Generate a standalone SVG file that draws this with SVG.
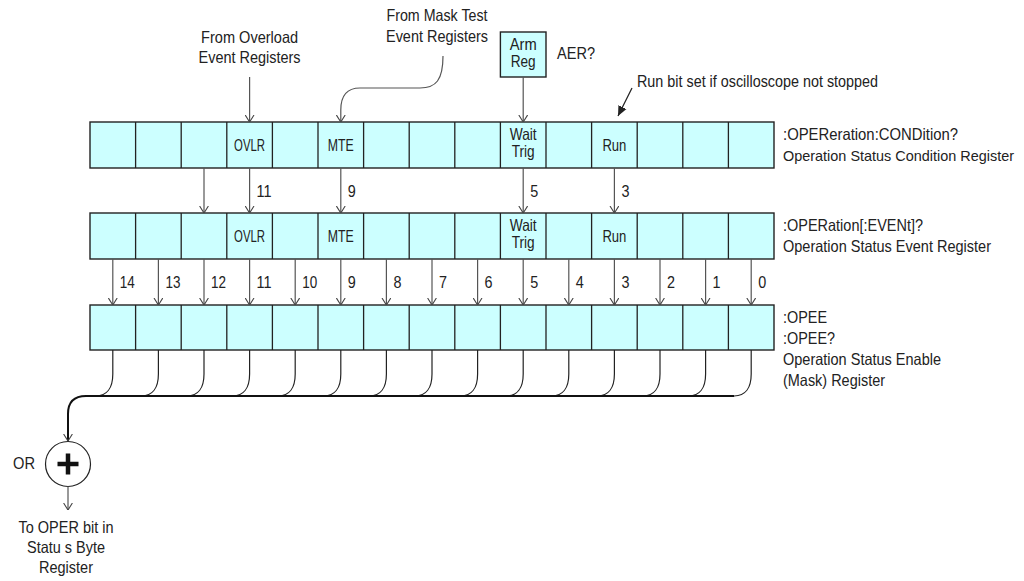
<svg xmlns="http://www.w3.org/2000/svg" width="1024" height="581" viewBox="0 0 1024 581">
<style>
text{font-family:"Liberation Sans",Arial,sans-serif;font-size:16.5px;fill:#222}
.c{text-anchor:middle}
.reg{fill:#CCFFFF;stroke:#222;stroke-width:1.4}
.div{stroke:#222;stroke-width:1.3}
.ar{fill:none;stroke:#555;stroke-width:1.2;marker-end:url(#v)}
.bus{fill:none;stroke:#222;stroke-width:1.2}
</style>
<defs>
<marker id="v" markerUnits="userSpaceOnUse" viewBox="0 0 7 10" refX="7" refY="5" markerWidth="7" markerHeight="10" orient="auto">
<path d="M0,0.6 L7,5 L0,9.4" fill="none" stroke="#444" stroke-width="1.1"/>
</marker>
<marker id="t" markerUnits="userSpaceOnUse" viewBox="0 0 10 10" refX="10" refY="5" markerWidth="10" markerHeight="10" orient="auto">
<path d="M0,0.5 L10,5 L0,9.5 Z" fill="#222"/>
</marker>
</defs>

<g id="cond-register">
<rect class="reg" x="90" y="122" width="684" height="46"/>
<path class="div" d="M135.6,122V168M181.2,122V168M226.8,122V168M272.4,122V168M318,122V168M363.6,122V168M409.2,122V168M454.8,122V168M500.4,122V168M546,122V168M591.6,122V168M637.2,122V168M682.8,122V168M728.4,122V168"/>
<text class="c" x="249.6" y="151" textLength="31" lengthAdjust="spacingAndGlyphs">OVLR</text>
<text class="c" x="340.8" y="151" textLength="26" lengthAdjust="spacingAndGlyphs">MTE</text>
<text class="c" x="523.2" y="140" textLength="27" lengthAdjust="spacingAndGlyphs">Wait</text>
<text class="c" x="523.2" y="157" textLength="23" lengthAdjust="spacingAndGlyphs">Trig</text>
<text class="c" x="614.4" y="151" textLength="24" lengthAdjust="spacingAndGlyphs">Run</text>
<text x="783" y="140" textLength="175" lengthAdjust="spacingAndGlyphs">:OPEReration:CONDition?</text>
<text x="783" y="161" style="font-size:15px" textLength="231" lengthAdjust="spacingAndGlyphs">Operation Status Condition Register</text>
</g>

<g id="event-register">
<rect class="reg" x="90" y="213" width="684" height="46"/>
<path class="div" d="M135.6,213V259M181.2,213V259M226.8,213V259M272.4,213V259M318,213V259M363.6,213V259M409.2,213V259M454.8,213V259M500.4,213V259M546,213V259M591.6,213V259M637.2,213V259M682.8,213V259M728.4,213V259"/>
<text class="c" x="249.6" y="242" textLength="31" lengthAdjust="spacingAndGlyphs">OVLR</text>
<text class="c" x="340.8" y="242" textLength="26" lengthAdjust="spacingAndGlyphs">MTE</text>
<text class="c" x="523.2" y="231" textLength="27" lengthAdjust="spacingAndGlyphs">Wait</text>
<text class="c" x="523.2" y="248" textLength="23" lengthAdjust="spacingAndGlyphs">Trig</text>
<text class="c" x="614.4" y="242" textLength="24" lengthAdjust="spacingAndGlyphs">Run</text>
<text x="783" y="231" textLength="140" lengthAdjust="spacingAndGlyphs">:OPERation[:EVENt]?</text>
<text x="783" y="252" textLength="208" lengthAdjust="spacingAndGlyphs">Operation Status Event Register</text>
</g>

<g id="enable-register">
<rect class="reg" x="90" y="305" width="684" height="45"/>
<path class="div" d="M135.6,305V350M181.2,305V350M226.8,305V350M272.4,305V350M318,305V350M363.6,305V350M409.2,305V350M454.8,305V350M500.4,305V350M546,305V350M591.6,305V350M637.2,305V350M682.8,305V350M728.4,305V350"/>
<text x="783" y="323" textLength="44" lengthAdjust="spacingAndGlyphs">:OPEE</text>
<text x="783" y="344" textLength="52" lengthAdjust="spacingAndGlyphs">:OPEE?</text>
<text x="783" y="365" textLength="158" lengthAdjust="spacingAndGlyphs">Operation Status Enable</text>
<text x="783" y="386" textLength="102" lengthAdjust="spacingAndGlyphs">(Mask) Register</text>
</g>

<g id="arm-reg">
<rect class="reg" x="500.4" y="32" width="45.6" height="45"/>
<text class="c" x="523.2" y="50" textLength="27" lengthAdjust="spacingAndGlyphs">Arm</text>
<text class="c" x="523.2" y="67" textLength="25" lengthAdjust="spacingAndGlyphs">Reg</text>
<text x="557" y="59" textLength="38" lengthAdjust="spacingAndGlyphs">AER?</text>
</g>

<g id="overload-source">
<text class="c" x="249.6" y="43" textLength="97" lengthAdjust="spacingAndGlyphs">From Overload</text>
<text class="c" x="249.6" y="63" textLength="102" lengthAdjust="spacingAndGlyphs">Event Registers</text>
</g>

<g id="mask-source">
<text class="c" x="437" y="21" textLength="101" lengthAdjust="spacingAndGlyphs">From Mask Test</text>
<text class="c" x="437" y="42" textLength="102" lengthAdjust="spacingAndGlyphs">Event Registers</text>
</g>

<g id="run-note">
<text x="637" y="87" textLength="241" lengthAdjust="spacingAndGlyphs">Run bit set if oscilloscope not stopped</text>
</g>

<g id="or-gate">
<circle cx="68" cy="464" r="22.5" fill="#fff" stroke="#222" stroke-width="1.2"/>
<path d="M57.5,464H78.5M68,453.5V474.5" stroke="#111" stroke-width="4.5"/>
<text x="13" y="469" textLength="22" lengthAdjust="spacingAndGlyphs">OR</text>
</g>

<g id="output">
<text class="c" x="66" y="533" textLength="95" lengthAdjust="spacingAndGlyphs">To OPER bit in</text>
<text class="c" x="66" y="553" textLength="78" lengthAdjust="spacingAndGlyphs">Statu s Byte</text>
<text class="c" x="66" y="573" textLength="54" lengthAdjust="spacingAndGlyphs">Register</text>
</g>

<g id="connectors">
<path class="ar" d="M249.6,77V122"/>
<path class="ar" d="M443,56C443,80 436,88 420,88L360,88C346,88 340.8,96 340.8,110V122"/>
<path class="ar" d="M523.2,77V122"/>
<path d="M632,88L618,116" fill="none" stroke="#222" stroke-width="1.2" marker-end="url(#t)"/>

<path class="ar" d="M204,168V213"/>
<path class="ar" d="M249.6,168V213"/>
<path class="ar" d="M340.8,168V213"/>
<path class="ar" d="M523.2,168V213"/>
<path class="ar" d="M614.4,168V213"/>
<text x="256.6" y="197" textLength="15" lengthAdjust="spacingAndGlyphs">11</text>
<text x="347.8" y="197" textLength="8" lengthAdjust="spacingAndGlyphs">9</text>
<text x="530.2" y="197" textLength="8" lengthAdjust="spacingAndGlyphs">5</text>
<text x="621.4" y="197" textLength="8" lengthAdjust="spacingAndGlyphs">3</text>

<path class="ar" d="M112.8,259V305"/>
<path class="ar" d="M158.4,259V305"/>
<path class="ar" d="M204,259V305"/>
<path class="ar" d="M249.6,259V305"/>
<path class="ar" d="M295.2,259V305"/>
<path class="ar" d="M340.8,259V305"/>
<path class="ar" d="M386.4,259V305"/>
<path class="ar" d="M432,259V305"/>
<path class="ar" d="M477.6,259V305"/>
<path class="ar" d="M523.2,259V305"/>
<path class="ar" d="M568.8,259V305"/>
<path class="ar" d="M614.4,259V305"/>
<path class="ar" d="M660,259V305"/>
<path class="ar" d="M705.6,259V305"/>
<path class="ar" d="M751.2,259V305"/>
<text x="119.8" y="288" textLength="15" lengthAdjust="spacingAndGlyphs">14</text>
<text x="165.4" y="288" textLength="15" lengthAdjust="spacingAndGlyphs">13</text>
<text x="211" y="288" textLength="15" lengthAdjust="spacingAndGlyphs">12</text>
<text x="256.6" y="288" textLength="15" lengthAdjust="spacingAndGlyphs">11</text>
<text x="302.2" y="288" textLength="15" lengthAdjust="spacingAndGlyphs">10</text>
<text x="347.8" y="288" textLength="8" lengthAdjust="spacingAndGlyphs">9</text>
<text x="393.4" y="288" textLength="8" lengthAdjust="spacingAndGlyphs">8</text>
<text x="439" y="288" textLength="8" lengthAdjust="spacingAndGlyphs">7</text>
<text x="484.6" y="288" textLength="8" lengthAdjust="spacingAndGlyphs">6</text>
<text x="530.2" y="288" textLength="8" lengthAdjust="spacingAndGlyphs">5</text>
<text x="575.8" y="288" textLength="8" lengthAdjust="spacingAndGlyphs">4</text>
<text x="621.4" y="288" textLength="8" lengthAdjust="spacingAndGlyphs">3</text>
<text x="667" y="288" textLength="8" lengthAdjust="spacingAndGlyphs">2</text>
<text x="712.6" y="288" textLength="8" lengthAdjust="spacingAndGlyphs">1</text>
<text x="758.2" y="288" textLength="8" lengthAdjust="spacingAndGlyphs">0</text>

<path class="bus" d="M112.8,350V374C112.8,388 106.8,396 95.8,396M158.4,350V374C158.4,388 152.4,396 141.4,396M204,350V374C204,388 198,396 187,396M249.6,350V374C249.6,388 243.6,396 232.6,396M295.2,350V374C295.2,388 289.2,396 278.2,396M340.8,350V374C340.8,388 334.8,396 323.8,396M386.4,350V374C386.4,388 380.4,396 369.4,396M432,350V374C432,388 426,396 415,396M477.6,350V374C477.6,388 471.6,396 460.6,396M523.2,350V374C523.2,388 517.2,396 506.2,396M568.8,350V374C568.8,388 562.8,396 551.8,396M614.4,350V374C614.4,388 608.4,396 597.4,396M660,350V374C660,388 654,396 643,396M705.6,350V374C705.6,388 699.6,396 688.6,396M751.2,350V374C751.2,388 745.2,396 734.2,396"/>
<path d="M734.2,396H86Q68,396 68,414V441" fill="none" stroke="#111" stroke-width="2" marker-end="url(#v)"/>
<path class="ar" d="M68,486.5V510"/>
</g>
</svg>
